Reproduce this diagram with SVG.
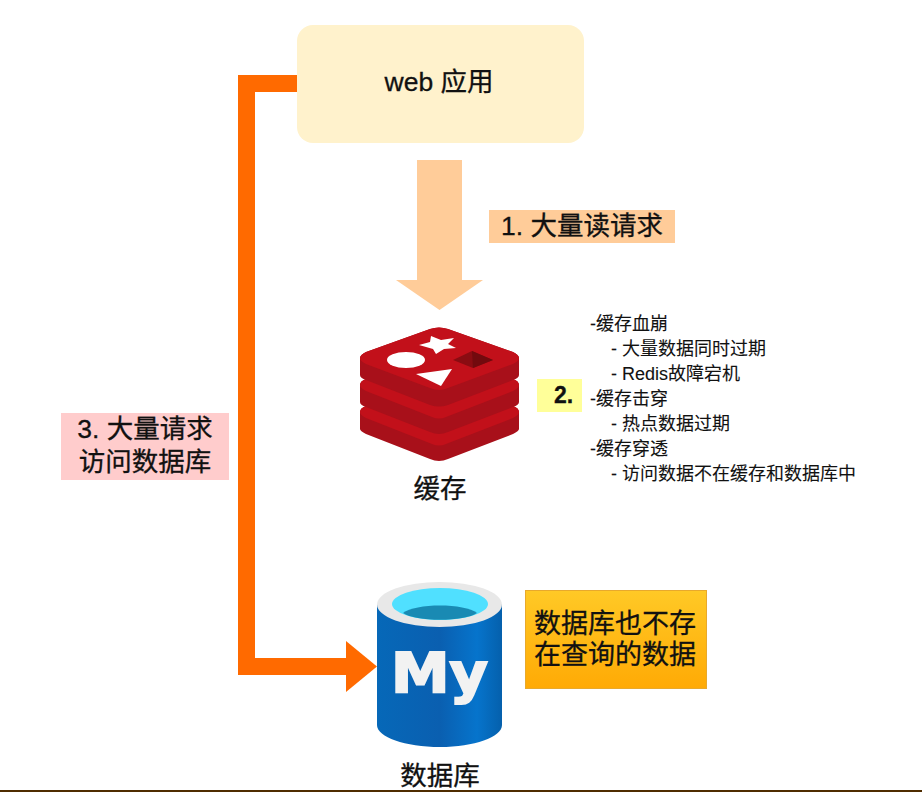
<svg xmlns="http://www.w3.org/2000/svg" width="922" height="792" viewBox="0 0 922 792">
<defs>
<style>
text{font-family:"Liberation Sans","Noto Sans CJK SC",sans-serif;fill:#111;stroke:#111;stroke-width:.3px}
.lb{font-size:26.500px}
.ls{font-size:18px;stroke-width:.1px}
.c{text-anchor:middle}
.side{fill:#a8101a}
.face{fill:#c2101a}
</style>
<linearGradient id="gold" x1="0" y1="0" x2="0" y2="1"><stop offset="0" stop-color="#ffc926"/><stop offset="1" stop-color="#ffaa05"/></linearGradient>
<linearGradient id="blue" x1="0" y1="0" x2="1" y2="0"><stop offset="0" stop-color="#0668b8"/><stop offset=".5" stop-color="#0a5fb0"/><stop offset=".8" stop-color="#0674cc"/><stop offset="1" stop-color="#0560ac"/></linearGradient>
</defs>
<rect width="922" height="792" fill="#fff"/>
<rect y="790" width="922" height="2" fill="#4f2c00"/>
<g id="connectors">
<path d="M297 83.500H246.500V666.500H350" fill="none" stroke="#ff6a00" stroke-width="17"/>
<polygon points="346,641 377,666.500 346,692" fill="#ff6a00"/>
<polygon points="417,160 462,160 462,280 483,280 439.500,310 396,280 417,280" fill="#ffcc99"/>
</g>
<g id="web">
<rect x="297" y="25" width="287" height="118" rx="16" fill="#fff2cc"/>
<text x="439" y="91" class="c" style="font-size:26.500px">web 应用</text>
</g>
<g id="label1">
<rect x="489" y="210" width="186" height="33" fill="#ffcc99"/>
<text x="582" y="235" class="lb c">1. 大量读请求</text>
</g>
<g id="label3">
<rect x="61" y="413" width="168" height="67" fill="#ffcccc"/>
<text x="145" y="438" class="lb c">3. 大量请求</text>
<text x="145" y="471" class="lb c">访问数据库</text>
</g>
<g id="redis">
<path class="side" d="M360 412Q360 408 366 406L430 380Q439 377 448 380L513 406Q519 408 519 412V429Q519 431 513 434L448 459Q439 463 430 459L366 434Q360 431 360 429Z"/>
<path class="face" d="M360 412Q360 415 366 418L432 444Q439 447 446 444L513 418Q519 415 519 412Q519 408 513 406L448 380Q439 377 430 380L366 406Q360 408 360 412Z"/>
<path class="side" d="M360 385Q360 381 366 379L430 353Q439 350 448 353L513 379Q519 381 519 385V402Q519 405 513 407L448 432Q439 436 430 432L366 407Q360 405 360 402Z"/>
<path class="face" d="M360 385Q360 388 366 391L432 417Q439 420 446 417L513 391Q519 388 519 385Q519 381 513 379L448 353Q439 350 430 353L366 379Q360 381 360 385Z"/>
<path class="side" d="M360 358Q360 355 366 352L430 329Q439 326 448 329L513 352Q519 355 519 358V375Q519 378 513 380L448 405Q439 408 430 405L366 380Q360 378 360 375Z"/>
<path class="face" d="M360 358Q360 361 366 364L430 388Q439 392 448 388L513 364Q519 361 519 358Q519 355 513 352L448 329Q439 326 430 329L366 352Q360 355 360 358Z"/>
<ellipse cx="406" cy="360" rx="19" ry="8" fill="#fff"/>
<polygon points="419,345 430,342 431,336 441,340 454,338 448,344 456,348 444,349 436,354 433,349" fill="#fff"/>
<polygon points="416,374 452,369 441,386" fill="#fff"/>
<polygon points="453,360 472,351 493,360 473,368" fill="#8a0c12"/>
<polygon points="472,351 493,360 473,368" fill="#720a0e"/>
<text x="440" y="498" class="c" style="font-size:26.500px">缓存</text>
</g>
<g id="mysql">
<path d="M377 604V725C377 737 405 747 440 747C474 747 502 737 502 725V604Z" fill="url(#blue)"/>
<ellipse cx="439.500" cy="604.500" rx="62.500" ry="22.500" fill="#e8e8e8"/>
<ellipse cx="440" cy="604" rx="48" ry="16" fill="#50e0ff"/>
<path d="M403 613C415 603 465 603 477 613C465 622 415 622 403 613Z" fill="#198ab3"/>
<text x="391" y="692" textLength="97" lengthAdjust="spacingAndGlyphs" style="font-family:'DejaVu Sans',sans-serif;font-weight:700;font-size:55px;fill:#f2f2f2;stroke:#f2f2f2;stroke-width:2px">My</text>
<text x="440" y="785" class="c" style="font-size:26.500px">数据库</text>
</g>
<g id="note">
<rect x="525.500" y="590.500" width="181" height="98" fill="url(#gold)" stroke="#e8a92c"/>
<text x="615" y="633" class="c" style="font-size:27px">数据库也不存</text>
<text x="615" y="664" class="c" style="font-size:27px">在查询的数据</text>
</g>
<g id="step2">
<rect x="537" y="379" width="45" height="33" fill="#ffff99"/>
<text x="554" y="403" style="font-size:23px;font-weight:700">2.</text>
</g>
<g id="causes">
<text x="590" y="330" class="ls">-缓存血崩</text>
<text x="611" y="355" class="ls">- 大量数据同时过期</text>
<text x="611" y="380" class="ls">- Redis故障宕机</text>
<text x="590" y="405" class="ls">-缓存击穿</text>
<text x="611" y="430" class="ls">- 热点数据过期</text>
<text x="590" y="455" class="ls">-缓存穿透</text>
<text x="611" y="480" class="ls">- 访问数据不在缓存和数据库中</text>
</g>
</svg>
